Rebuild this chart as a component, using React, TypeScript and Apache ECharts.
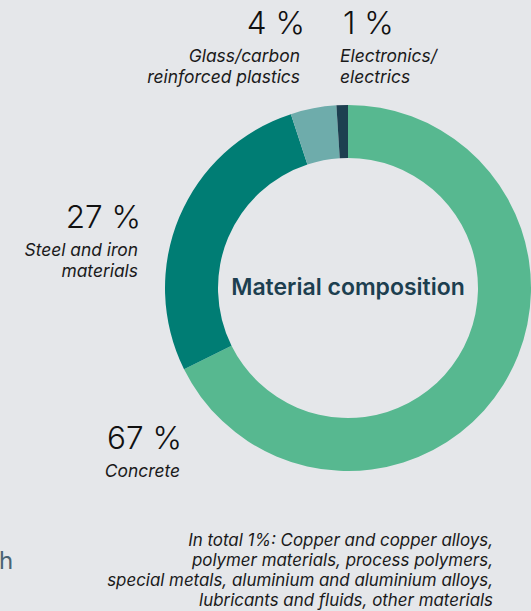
import React, { useEffect, useRef } from "react";
import * as echarts from "echarts";

const categories = ["Concrete", "Steel and iron\nmaterials", "Glass/carbon\nreinforced plastics", "Electronics/\nelectrics"];
const values = [67, 27, 4, 1];
const valueLabels = ["67 %", "27 %", "4 %", "1 %"];
const colors = ["#57b890", "#007d74", "#6eacab", "#1d3f50"];
const centerTitle = "Material composition";
const footnote = [
  "In total 1%: Copper and copper alloys,",
  "polymer materials, process polymers,",
  "special metals, aluminium and aluminium alloys,",
  "lubricants and fluids, other materials",
];

const FONT = "Inter, 'Noto Sans', sans-serif";

export default function App() {
  const ref = useRef<HTMLDivElement>(null);
  useEffect(() => {
    document.body.style.margin = "0";
    if (!ref.current) return;
    const chart = echarts.init(ref.current, undefined, { renderer: "svg" });

    // label anchor layout: [valueX, valueY, nameX, nameY, align]
    const layout: [number, number, number, number, string][] = [
      [182, 437, 180, 470, "right"],
      [141, 216, 138, 259.5, "right"],
      [305, 22, 300, 65.5, "right"],
      [343, 22, 340, 65.5, "left"],
    ];

    const graphics: any[] = [];
    categories.forEach((name, i) => {
      const [vx, vy, nx, ny, al] = layout[i];
      graphics.push({
        type: "text",
        x: vx,
        y: vy,
        style: {
          text: valueLabels[i],
          fontFamily: FONT,
          fontSize: 31.5,
          fontWeight: 300,
          fill: "#111111",
          align: al,
          verticalAlign: "middle",
        },
      });
      graphics.push({
        type: "text",
        x: nx,
        y: ny,
        style: {
          text: name,
          fontFamily: FONT,
          fontSize: 17.4,
          fontStyle: "italic",
          lineHeight: 21,
          fill: "#1a1a1a",
          align: al,
          verticalAlign: "middle",
        },
      });
    });
    graphics.push({
      type: "text",
      x: 348,
      y: 287,
      style: {
        text: centerTitle,
        fontFamily: FONT,
        fontSize: 23,
        fontWeight: 600,
        fill: "#1d3f50",
        align: "center",
        verticalAlign: "middle",
      },
    });
    graphics.push({
      type: "text",
      x: 493,
      y: 570,
      style: {
        text: footnote.join("\n"),
        fontFamily: FONT,
        fontSize: 16.9,
        fontStyle: "italic",
        lineHeight: 20,
        fill: "#1a1a1a",
        align: "right",
        verticalAlign: "middle",
      },
    });
    graphics.push({
      type: "text",
      x: -1,
      y: 560,
      style: {
        text: "h",
        fontFamily: FONT,
        fontSize: 24,
        fill: "#4a6474",
        align: "left",
        verticalAlign: "middle",
      },
    });

    chart.setOption({
      animation: false,
      backgroundColor: "#e5e7ea",
      series: [
        {
          type: "pie",
          center: [348, 288],
          radius: [130, 183],
          startAngle: 90,
          clockwise: true,
          label: { show: false },
          labelLine: { show: false },
          emphasis: { disabled: true },
          data: categories.map((c, i) => ({
            name: c,
            value: values[i],
            itemStyle: { color: colors[i] },
          })),
        },
      ],
      graphic: { elements: graphics },
    });
    return () => chart.dispose();
  }, []);
  return <div ref={ref} style={{ width: 531, height: 611, background: "#e5e7ea" }} />;
}
